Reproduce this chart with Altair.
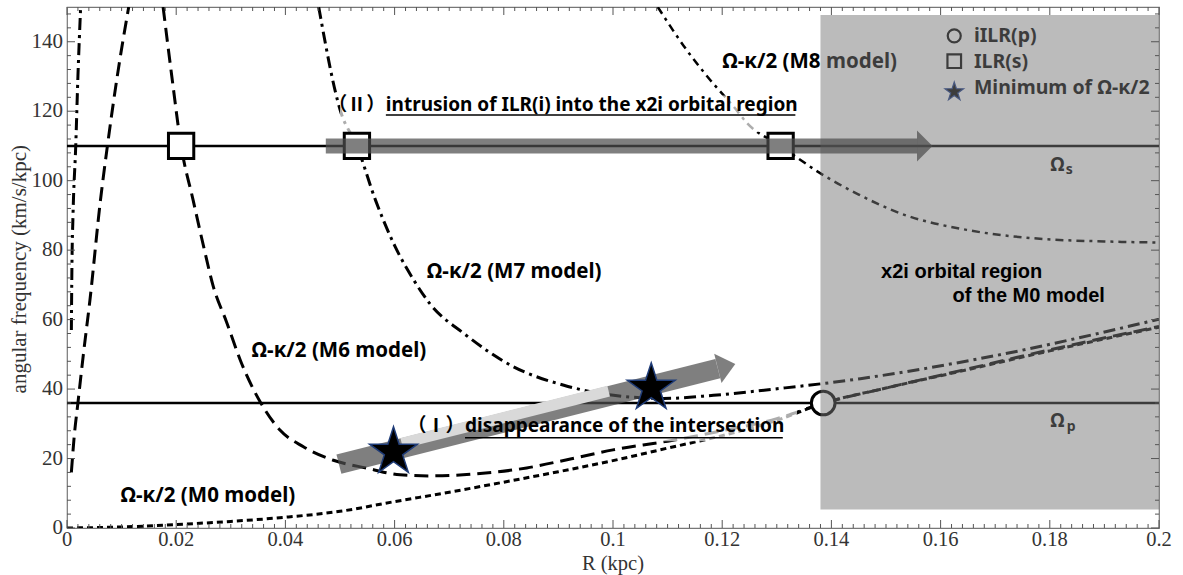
import math
import altair as alt
import pandas as pd

# ---------------- data ----------------
omega_s = 110
omega_p = 36

m0_x = [0, 0.01, 0.02, 0.03, 0.04, 0.05, 0.06, 0.07, 0.08, 0.09, 0.10, 0.11, 0.12, 0.13, 0.1385, 0.15, 0.165, 0.18, 0.2]
m0_y = [0, 0.3, 1.0, 1.9, 3.1, 4.8, 7.6, 10.3, 13.2, 16.2, 19.4, 23.0, 26.6, 31.0, 35.9, 40.3, 45.6, 51.0, 57.8]

m6a_x = [0.0008, 0.0013, 0.0020, 0.0030, 0.0042, 0.0061, 0.0074, 0.0092, 0.0113]
m6a_y = [16, 26, 36, 50, 65.6, 94, 110, 130, 150]
m6b_x = [0.0176, 0.0192, 0.0209, 0.0231, 0.0251, 0.0268, 0.0292, 0.0320, 0.0355, 0.0390, 0.0433, 0.0488,
         0.0550, 0.0610, 0.0666, 0.075, 0.0842, 0.092, 0.100, 0.110, 0.120, 0.130, 0.1385, 0.150, 0.165, 0.180, 0.200]
m6b_y = [150, 130, 110, 94.4, 80.5, 69.5, 59.4, 47.3, 36, 28.2, 23.4, 19.5,
         17.2, 15.3, 15.0, 15.6, 17.3, 19.8, 22.5, 25.0, 28.0, 31.5, 35.9, 40.3, 45.8, 51.3, 58.0]

m7a_x = [0.0008, 0.0009, 0.0011, 0.0016, 0.0020, 0.0025]
m7a_y = [57, 75, 90, 110, 130, 150]
m7b_x = [0.0461, 0.0501, 0.0531, 0.0565, 0.0601, 0.0635, 0.0665, 0.0727, 0.0818, 0.0910, 0.1001, 0.1093,
         0.1184, 0.1307, 0.1380, 0.1453, 0.1673, 0.2]
m7b_y = [150, 120, 110, 94.4, 81, 71.4, 64.5, 56, 46.4, 41.1, 38.2, 37.3,
         38.2, 40.2, 41.5, 43.0, 48.8, 60.1]

m8_x = [0.1082, 0.1135, 0.1178, 0.1221, 0.1246, 0.1307, 0.1380, 0.1450, 0.1526, 0.1649, 0.1771, 0.1900, 0.2]
m8_y = [150, 137.6, 129, 121.3, 116.5, 110, 102.1, 96.0, 90.6, 85.8, 83.4, 82.5, 82.2]

ilr_s_x = [0.0209, 0.0531, 0.1307]
iilr_p_x = [0.1385]
star_x = [0.0598, 0.1070]
star_y = [21.9, 40.3]

# axes: tick positions and labels
x_major = [0, 0.02, 0.04, 0.06, 0.08, 0.1, 0.12, 0.14, 0.16, 0.18, 0.2]
x_labels = ["0", "0.02", "0.04", "0.06", "0.08", "0.1", "0.12", "0.14", "0.16", "0.18", "0.2"]
x_minor = [round(i * 0.002, 3) for i in range(101) if i % 10 != 0]
y_major = [0, 20, 40, 60, 80, 100, 120, 140]
y_labels = ["0", "20", "40", "60", "80", "100", "120", "140"]
y_minor = [i * 4 for i in range(38) if i % 5 != 0]
x_title = "R (kpc)"
y_title = "angular frequency (km/s/kpc)"
x_title_pos = [0.1, -12.1]      # centre / baseline (below the axis)
y_title_pos = [-0.0086, 74.5]   # centre (left of the axis)

# shaded x2i region of M0
shade_x = [0.1380, 0.2]
shade_y = [5.3, 147.7]

# arrows (start, end of shaft; head centre)
arrow2_shaft = [0.0474, 110, 0.1557, 110]
arrow2_head = [0.1571, 110]
arrow1_shaft = [0.0498, 18.4, 0.1192, 45.9]
arrow1_head = [0.1208, 46.6]
arrow1_light = [0.0613, 24.4, 0.0992, 39.4]

# translucent text boxes
box_x1 = [0.0500, 0.0655]
box_x2 = [0.1335, 0.1337]
box_y1 = [114.0, 25.0]
box_y2 = [124.5, 34.5]

# underlines
ul_x1 = [0.0584, 0.0729]
ul_x2 = [0.1334, 0.1311]
ul_y = [118.9, 26.0]

model_text = ["Ω-κ/2 (M7 model)", "Ω-κ/2 (M6 model)", "Ω-κ/2 (M0 model)"]
model_x = [0.0659, 0.0338, 0.0098]
model_y = [72.0, 49.3, 7.6]

prefix_text = ["（Ⅱ）", "（Ⅰ）"]
prefix_x = [0.0583, 0.0728]          # right edge
prefix_y = [120.1, 27.7]
note_text = ["intrusion of ILR(i) into the x2i orbital region", "disappearance of the intersection"]
note_x = [0.0584, 0.0729]
note_y = [120.1, 27.7]

m8_text = ["Ω-κ/2 (M8 model)"]
m8_pos = [0.1200, 132.4]

legend_text = ["iILR(p)", "ILR(s)", "Minimum of Ω-κ/2"]
legend_tx = 0.1661
legend_ty = [140.0, 132.4, 124.9]

omega_lab = ["Ω", "s", "Ω", "p"]
omega_lab_x = [0.1801, 0.1829, 0.1801, 0.1831]
omega_lab_y = [102.9, 101.9, 29.1, 28.0]
omega_lab_size = [19, 14, 19, 14]

x2i_text = ["x2i orbital region", "of the M0 model"]
x2i_x = [0.1491, 0.1622]
x2i_y = [71.9, 65.2]

legend_x = 0.1625
legend_circle_y = 141.7
legend_square_y = 134.4
legend_star_y = 125.6

# ---------------- helpers ----------------
XS = alt.Scale(domain=[0, 0.2], nice=False, zero=False)
YS = alt.Scale(domain=[0, 150], nice=False, zero=False)
SANS = "Noto Sans, Noto Sans CJK JP"
SERIF = "Liberation Serif"
AXIS_COL = "#333333"


def star_path(r_in=0.382):
    pts = []
    for k in range(10):
        a = math.radians(-90 + 36 * k)
        r = 1.0 if k % 2 == 0 else r_in
        pts.append(f"{r * math.cos(a):.4f},{r * math.sin(a):.4f}")
    return "M" + "L".join(pts) + "Z"


STAR = star_path()


def X(f="x"):
    return alt.X(f"{f}:Q", scale=XS, axis=None)


def Y(f="y"):
    return alt.Y(f"{f}:Q", scale=YS, axis=None)


def curve(xs, ys, dash, width, color="black"):
    df = pd.DataFrame({"x": xs, "y": ys, "i": list(range(len(xs)))})
    return alt.Chart(df).mark_line(strokeDash=dash, strokeWidth=width, color=color, clip=True,
                                   strokeCap="butt", interpolate="monotone").encode(x=X(), y=Y(), order="i:Q")


def texts(xs, ys, ts, **kw):
    df = pd.DataFrame({"x": xs, "y": ys, "t": ts})
    return alt.Chart(df).mark_text(**kw).encode(x=X(), y=Y(), text="t:N")


layers = []

# pattern-speed lines
om_df = pd.DataFrame({"y": [omega_s, omega_p]})
layers.append(alt.Chart(om_df).mark_rule(strokeWidth=2.5, color="black").encode(y=Y()))

# Omega - kappa/2 curves
layers.append(curve(m0_x, m0_y, [6, 4], 3))
layers.append(curve(m6a_x, m6a_y, [14, 7], 3))
layers.append(curve(m6b_x, m6b_y, [14, 7], 3))
layers.append(curve(m7a_x, m7a_y, [12, 5, 3, 5], 3))
layers.append(curve(m7b_x, m7b_y, [12, 5, 3, 5], 3))
layers.append(curve(m8_x, m8_y, [8, 5, 3, 5], 2.5))

# translucent boxes behind annotation text
box_df = pd.DataFrame({"x": box_x1, "x2": box_x2, "y": box_y1, "y2": box_y2})
layers.append(alt.Chart(box_df).mark_rect(color="white", opacity=0.68).encode(
    x=X(), x2="x2:Q", y=Y(), y2="y2:Q"))

# ILR(s) squares and iILR(p) circle
sq_df = pd.DataFrame({"x": ilr_s_x, "y": [omega_s] * len(ilr_s_x)})
layers.append(alt.Chart(sq_df).mark_point(shape="square", size=640, stroke="black", strokeWidth=3,
                                          fill="white", fillOpacity=1, opacity=1).encode(x=X(), y=Y()))
ci_df = pd.DataFrame({"x": iilr_p_x, "y": [omega_p]})
layers.append(alt.Chart(ci_df).mark_point(shape="circle", size=560, stroke="black", strokeWidth=3,
                                          fill="white", fillOpacity=1, opacity=1).encode(x=X(), y=Y()))

# legend symbols (under the shade)
layers.append(alt.Chart(pd.DataFrame({"x": [legend_x], "y": [legend_circle_y]})).mark_point(
    shape="circle", size=170, stroke="black", strokeWidth=2.2, fill="white", fillOpacity=0, opacity=1
).encode(x=X(), y=Y()))
layers.append(alt.Chart(pd.DataFrame({"x": [legend_x], "y": [legend_square_y]})).mark_point(
    shape="square", size=185, stroke="black", strokeWidth=2.2, fill="white", fillOpacity=0, opacity=1
).encode(x=X(), y=Y()))
layers.append(alt.Chart(pd.DataFrame({"x": [legend_x], "y": [legend_star_y]})).mark_point(
    shape=STAR, size=380, stroke="#1a3a8a", strokeWidth=1.2, fill="black", fillOpacity=1, opacity=1
).encode(x=X(), y=Y()))

# texts under the shade
layers.append(texts([legend_tx] * 3, legend_ty, legend_text, align="left", baseline="alphabetic",
                    font=SANS, fontSize=19.5, fontWeight="bold", color="black"))
layers.append(texts([m8_pos[0]], [m8_pos[1]], m8_text, align="left", baseline="alphabetic",
                    font=SANS, fontSize=20.5, fontWeight="bold", color="black"))
om_lab_df = pd.DataFrame({"x": omega_lab_x, "y": omega_lab_y, "t": omega_lab, "s": omega_lab_size})
layers.append(alt.Chart(om_lab_df).mark_text(align="left", baseline="alphabetic", font=SANS,
                                             fontWeight="bold", color="black").encode(
    x=X(), y=Y(), text="t:N", size=alt.Size("s:Q", scale=None, legend=None)))

# shaded x2i region
shade_df = pd.DataFrame({"x": [shade_x[0]], "x2": [shade_x[1]], "y": [shade_y[0]], "y2": [shade_y[1]]})
layers.append(alt.Chart(shade_df).mark_rect(color="#777777", opacity=0.5).encode(
    x=X(), x2="x2:Q", y=Y(), y2="y2:Q"))

# arrows
ARROW_COL = "#4d4d4d"
a2 = pd.DataFrame({"x": [arrow2_shaft[0]], "y": [arrow2_shaft[1]], "x2": [arrow2_shaft[2]], "y2": [arrow2_shaft[3]]})
layers.append(alt.Chart(a2).mark_rule(strokeWidth=15, color=ARROW_COL, opacity=0.72, strokeCap="butt").encode(
    x=X(), y=Y(), x2="x2:Q", y2="y2:Q"))
layers.append(alt.Chart(pd.DataFrame({"x": [arrow2_head[0]], "y": [arrow2_head[1]]})).mark_point(
    shape="M-0.5,-1L0.5,0L-0.5,1Z", size=961, filled=True, fill=ARROW_COL, fillOpacity=0.72,
    strokeWidth=0, opacity=1).encode(x=X(), y=Y()))

a1 = pd.DataFrame({"x": [arrow1_shaft[0]], "y": [arrow1_shaft[1]], "x2": [arrow1_shaft[2]], "y2": [arrow1_shaft[3]]})
layers.append(alt.Chart(a1).mark_rule(strokeWidth=20, color=ARROW_COL, opacity=0.72, strokeCap="butt").encode(
    x=X(), y=Y(), x2="x2:Q", y2="y2:Q"))
layers.append(alt.Chart(pd.DataFrame({"x": [arrow1_head[0]], "y": [arrow1_head[1]]})).mark_point(
    shape="M-0.6,-1L0.6,0L-0.6,1Z", size=900, angle=345.8, filled=True, fill=ARROW_COL, fillOpacity=0.72,
    strokeWidth=0, opacity=1).encode(x=X(), y=Y()))
a1l = pd.DataFrame({"x": [arrow1_light[0]], "y": [arrow1_light[1]], "x2": [arrow1_light[2]], "y2": [arrow1_light[3]]})
layers.append(alt.Chart(a1l).mark_rule(strokeWidth=11, color="#d9d9d9", strokeCap="butt").encode(
    x=X(), y=Y(), x2="x2:Q", y2="y2:Q"))

# stars (minimum of Omega - kappa/2)
st_df = pd.DataFrame({"x": star_x, "y": star_y})
layers.append(alt.Chart(st_df).mark_point(shape=STAR, size=2540, fill="black", fillOpacity=1,
                                          stroke="#1f3c78", strokeWidth=1.5, opacity=1).encode(x=X(), y=Y()))

# annotation texts
layers.append(texts(model_x, model_y, model_text, align="left", baseline="alphabetic", font=SANS,
                    fontSize=20.5, fontWeight="bold", color="black"))
layers.append(texts(prefix_x, prefix_y, prefix_text, align="right", baseline="alphabetic", font=SANS,
                    fontSize=19, fontWeight="bold", color="black"))
layers.append(texts(note_x, note_y, note_text, align="left", baseline="alphabetic", font=SANS,
                    fontSize=19, fontWeight="bold", color="black"))
layers.append(texts(x2i_x, x2i_y, x2i_text, align="left", baseline="alphabetic", font="Liberation Sans",
                    fontSize=20, fontWeight="bold", color="black"))

ul_df = pd.DataFrame({"x": ul_x1, "x2": ul_x2, "y": ul_y})
layers.append(alt.Chart(ul_df).mark_rule(strokeWidth=1.6, color="black").encode(x=X(), x2="x2:Q", y=Y()))

# inward ticks on all four sides
TICK = "#555555"
for vals, L in ((x_major, 8), (x_minor, 4)):
    df = pd.DataFrame({"x": vals, "lo": [0] * len(vals), "hi": [150] * len(vals)})
    layers.append(alt.Chart(df).mark_tick(orient="vertical", size=L, thickness=1, color=TICK, opacity=1,
                                          yOffset=-L / 2).encode(x=X(), y=Y("lo")))
    layers.append(alt.Chart(df).mark_tick(orient="vertical", size=L, thickness=1, color=TICK, opacity=1,
                                          yOffset=L / 2).encode(x=X(), y=Y("hi")))
for vals, L in ((y_major, 8), (y_minor, 4)):
    df = pd.DataFrame({"y": vals, "lo": [0] * len(vals), "hi": [0.2] * len(vals)})
    layers.append(alt.Chart(df).mark_tick(orient="horizontal", size=L, thickness=1, color=TICK, opacity=1,
                                          xOffset=L / 2).encode(y=Y(), x=X("lo")))
    layers.append(alt.Chart(df).mark_tick(orient="horizontal", size=L, thickness=1, color=TICK, opacity=1,
                                          xOffset=-L / 2).encode(y=Y(), x=X("hi")))

# tick labels and axis titles
layers.append(texts(x_major, [0] * len(x_major), x_labels, align="center", baseline="top", dy=2,
                    font=SERIF, fontSize=20.5, color=AXIS_COL))
layers.append(texts([0] * len(y_major), y_major, y_labels, align="right", baseline="middle", dx=-4,
                    font=SERIF, fontSize=21, color=AXIS_COL))
layers.append(texts([x_title_pos[0]], [x_title_pos[1]], [x_title], align="center", baseline="alphabetic",
                    font=SERIF, fontSize=20.5, color=AXIS_COL))
layers.append(texts([y_title_pos[0]], [y_title_pos[1]], [y_title], align="center", baseline="middle",
                    angle=270, font=SERIF, fontSize=21, color=AXIS_COL))

chart = alt.layer(*layers).properties(
    width=1092, height=521,
    autosize=alt.AutoSizeParams(type="none"),
    padding={"left": 67, "top": 7, "right": 24, "bottom": 47},
    background="white",
).configure_view(stroke="#777777", strokeWidth=1.2)

chart.save("out.html", embed_options={"renderer": "svg", "actions": False})
